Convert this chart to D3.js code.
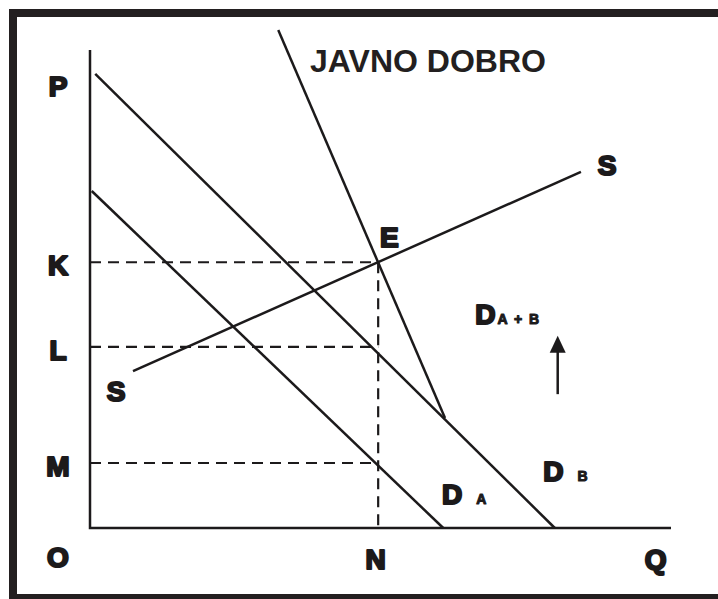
<!DOCTYPE html>
<html>
<head>
<meta charset="utf-8">
<script src="https://cdn.jsdelivr.net/npm/d3@7"></script>
<style>
  html, body { margin: 0; padding: 0; background: #fff; }
  #chart { width: 718px; height: 599px; }
  .heavy { font-family: 'Liberation Sans', Arial, sans-serif; font-weight: bold; fill: #1c1a1b; stroke: #1c1a1b; stroke-width: 2.2px; stroke-linejoin: round; }
  .title { font-family: 'Liberation Sans', Arial, sans-serif; font-weight: bold; fill: #231f20; }
</style>
</head>
<body>
<div id="chart"></div>
<script>
// curves: quantity (0-100) and price (0-100) end points
const demandBQ = [0.9, 80.0];
const demandBP = [95.0, 0];
const demandAQ = [0.3, 60.8];
const demandAP = [70.5, 0];
const demandSumQ = [32.4, 61.1];
const demandSumP = [104.2, 23.0];
const supplyQ = [7.4, 84.5];
const supplyP = [32.8, 74.5];
// price levels and quantity labels
const priceNames = ['P', 'K', 'L', 'M', 'O'];
const priceValues = [93.1, 55.6, 37.9, 13.6, -5.4];
const qtyNames = ['N', 'Q'];
const qtyValues = [49.6, 97.8];
const equilibriumQ = 49.6;
const guideLevels = [55.6, 37.9, 13.6];
// shift arrow (quantity, price from, price to)
const arrowQ = 80.5;
const arrowP = [28.0, 40.2];

const width = 718;
const height = 599;
const ink = '#1c1a1b';

const svg = d3
  .select('#chart')
  .append('svg')
  .attr('width', width)
  .attr('height', height);

// frame: left, top and bottom only
svg.append('rect').attr('x', 9).attr('y', 9).attr('width', 8).attr('height', 590).attr('fill', '#231f20');
svg.append('rect').attr('x', 9).attr('y', 9).attr('width', 709).attr('height', 8).attr('fill', '#231f20');
svg.append('rect').attr('x', 9).attr('y', 594).attr('width', 709).attr('height', 6).attr('fill', '#231f20');

// scales
const x = d3.scaleLinear().domain([0, 100]).range([90, 671]);
const y = d3.scaleLinear().domain([0, 100]).range([528, 50]);

const toPoints = (qs, ps) => qs.map((q, i) => [q, ps[i]]);
const line = d3.line().x((d) => x(d[0])).y((d) => y(d[1]));

// dashed guides
const guides = svg.append('g')
  .attr('stroke', ink)
  .attr('stroke-width', 2.2)
  .attr('stroke-dasharray', '11,7')
  .attr('fill', 'none');

guides.selectAll('path.h')
  .data(guideLevels)
  .join('path')
  .attr('class', 'h')
  .attr('d', (d) => line([[0, d], [equilibriumQ, d]]));

guides.append('path')
  .attr('d', line([[equilibriumQ, guideLevels[0]], [equilibriumQ, 0]]));

// axes lines
svg.append('path')
  .attr('d', line([[0, 100], [0, 0], [100, 0]]))
  .attr('fill', 'none')
  .attr('stroke', ink)
  .attr('stroke-width', 2.5);

// curves
const curves = [
  toPoints(demandBQ, demandBP),
  toPoints(demandAQ, demandAP),
  toPoints(demandSumQ, demandSumP),
  toPoints(supplyQ, supplyP)
];

svg.append('g')
  .selectAll('path')
  .data(curves)
  .join('path')
  .attr('d', line)
  .attr('fill', 'none')
  .attr('stroke', ink)
  .attr('stroke-width', 2.5);

// price labels
const yAxis = d3.axisLeft(y)
  .tickValues(priceValues)
  .tickFormat((d, i) => priceNames[i])
  .tickSize(0);

const yg = svg.append('g')
  .attr('transform', `translate(${x(0)}, 0)`)
  .call(yAxis);
yg.select('.domain').remove();
yg.selectAll('text')
  .attr('class', 'heavy')
  .attr('x', -32)
  .attr('dy', '0.45em')
  .style('text-anchor', 'middle')
  .style('font-size', '28px');

// quantity labels
const xAxis = d3.axisBottom(x)
  .tickValues(qtyValues)
  .tickFormat((d, i) => qtyNames[i])
  .tickSize(0);

const xg = svg.append('g')
  .attr('transform', `translate(0, ${y(0)})`)
  .call(xAxis);
xg.select('.domain').remove();
xg.selectAll('text')
  .attr('class', 'heavy')
  .attr('y', 41)
  .attr('dy', 0)
  .attr('dx', -3)
  .style('text-anchor', 'middle')
  .style('font-size', '28px');

// curve labels
const labels = svg.append('g');

function addLabel(q, p, main, sub, dx) {
  const t = labels.append('text')
    .attr('class', 'heavy')
    .attr('x', x(q))
    .attr('y', y(p))
    .style('font-size', '28px')
    .text(main);
  if (sub) {
    t.append('tspan')
      .attr('dx', dx)
      .style('font-size', '14px')
      .style('stroke-width', '1px')
      .style('letter-spacing', '1.5px')
      .text(sub);
  }
}

addLabel(49.9, 58.8, 'E');
addLabel(2.9, 26.6, 'S');
addLabel(87.4, 73.8, 'S');
addLabel(66.3, 42.7, 'D', 'A + B', 2);
addLabel(78.0, 9.8, 'D', 'B', 14);
addLabel(60.6, 5.0, 'D', 'A', 14);

// shift arrow
svg.append('path')
  .attr('d', line([[arrowQ, arrowP[0]], [arrowQ, arrowP[1] - 3]]))
  .attr('stroke', ink)
  .attr('stroke-width', 2.5);

svg.append('path')
  .attr('d', `M${x(arrowQ)},${y(arrowP[1])} l-8,17 l16,0 z`)
  .attr('fill', ink);

// title
svg.append('text')
  .attr('class', 'title')
  .attr('x', 310)
  .attr('y', 72)
  .style('font-size', '32px')
  .text('JAVNO DOBRO');
</script>
</body>
</html>
